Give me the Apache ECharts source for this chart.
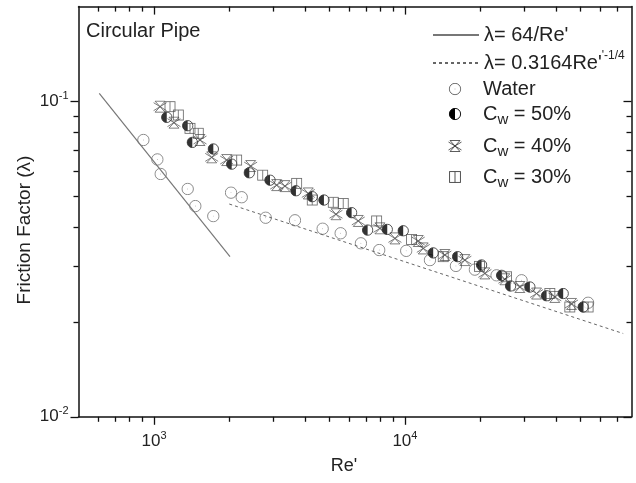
<!DOCTYPE html>
<html>
<head>
<meta charset="utf-8">
<script src="https://cdn.jsdelivr.net/npm/echarts@6/dist/echarts.min.js"></script>
<style>html,body{margin:0;padding:0;background:#fff}#c{width:636px;height:483px}</style>
</head>
<body>
<div id="c"></div>
<script>
// ---- data ----
const xRange = [500, 80000];
const yRange = [0.01, 0.2];
const xMajorTicks = [1000, 10000];
const xMinorTicks = [600, 700, 800, 900, 2000, 3000, 4000, 5000, 6000, 7000, 8000, 9000, 20000, 30000, 40000, 50000, 60000, 70000];
const yMajorTicks = [0.01, 0.1];
const yMinorTicks = [0.02, 0.03, 0.04, 0.05, 0.06, 0.07, 0.08, 0.09];

const laminarRe = [605, 2008];
const laminarLam = [0.1062, 0.0322];
const blasiusRe = [1995, 74130];
const blasiusLam = [0.0473, 0.01837];

const waterRe = [907, 1031, 1063, 1362, 1461, 1723, 2027, 2236, 2786, 3646, 4700, 5544, 6677, 7900, 10120, 12580, 15970, 19000, 23190, 29170, 53720];
const waterLam = [0.0755, 0.0655, 0.0589, 0.0528, 0.0466, 0.0433, 0.0514, 0.0497, 0.0428, 0.0420, 0.0395, 0.0382, 0.0355, 0.0338, 0.0336, 0.0314, 0.0301, 0.0293, 0.0281, 0.0271, 0.0230];

const cw50Re = [1124, 1362, 1421, 1723, 2040, 2397, 2899, 3679, 4272, 4757, 6132, 7101, 8502, 9845, 12960, 16220, 20210, 24290, 26370, 31480, 36680, 42730, 51340];
const cw50Lam = [0.0891, 0.0838, 0.0742, 0.0707, 0.0633, 0.0594, 0.0563, 0.0521, 0.0499, 0.0487, 0.0444, 0.0391, 0.0393, 0.0389, 0.0331, 0.0322, 0.0303, 0.0281, 0.0260, 0.0258, 0.0242, 0.0246, 0.0223];

const cw40Re = [1057, 1201, 1525, 1698, 1948, 2428, 3082, 3326, 4119, 5311, 6516, 7950, 9124, 11300, 11830, 14430, 17340, 20830, 25030, 28720, 33470, 39590, 46140];
const cw40Lam = [0.0963, 0.0857, 0.0755, 0.0665, 0.0652, 0.0624, 0.0543, 0.0539, 0.0511, 0.0439, 0.0418, 0.0396, 0.0368, 0.0361, 0.0342, 0.0326, 0.0314, 0.0285, 0.0273, 0.0258, 0.0246, 0.0240, 0.0228];

const cw30Re = [1158, 1250, 1391, 1501, 2135, 2711, 3703, 4272, 5181, 5678, 7715, 10630, 14210, 19840, 25420, 37820, 45430, 53720];
const cw30Lam = [0.0963, 0.0906, 0.0822, 0.0793, 0.0652, 0.0584, 0.0550, 0.0487, 0.0479, 0.0475, 0.0418, 0.0365, 0.0322, 0.0300, 0.0278, 0.0246, 0.0223, 0.0223];

const seriesNames = ["λ= 64/Re'", "λ= 0.3164Re'-1/4", "Water", "Cw = 50%", "Cw = 40%", "Cw = 30%"];
const legendLabels = ["λ= 64/Re'", "λ= 0.3164Re'{sup|'-1/4}", "Water", "C{sub|w} = 50%", "C{sub|w} = 40%", "C{sub|w} = 30%"];

// ---- helpers ----
const L = v => Math.log10(v);
const pts = (xs, ys) => xs.map((x, i) => [L(x), L(ys[i])]);
const svg = s => 'image://data:image/svg+xml;charset=utf-8,' + encodeURIComponent(s);
const FONT = '"Liberation Sans", Arial, sans-serif';

const symWater = svg("<svg xmlns='http://www.w3.org/2000/svg' width='52' height='52' viewBox='0 0 13 13'><circle cx='6.5' cy='6.5' r='5.7' fill='none' stroke='#555' stroke-width='0.85'/><circle cx='6.5' cy='6.5' r='0.45' fill='#777'/></svg>");
const sym50 = svg("<svg xmlns='http://www.w3.org/2000/svg' width='48' height='48' viewBox='0 0 12 12'><circle cx='6' cy='6' r='5.2' fill='#fff' stroke='#111' stroke-width='0.9'/><path d='M6,0.8 A5.2,5.2 0 0 0 6,11.2 Z' fill='#000'/></svg>");
const sym40 = svg("<svg xmlns='http://www.w3.org/2000/svg' width='56' height='52' viewBox='0 0 14 13'><path d='M2,1 H12 L2,12 H12 Z M0.5,2.5 L13.5,10.5 M13.5,2.5 L0.5,10.5' fill='none' stroke='#333' stroke-width='0.8'/></svg>");
const sym30 = svg("<svg xmlns='http://www.w3.org/2000/svg' width='48' height='48' viewBox='0 0 12 12'><rect x='1' y='1' width='10' height='10' fill='none' stroke='#444' stroke-width='0.85'/><line x1='6' y1='1' x2='6' y2='11' stroke='#444' stroke-width='0.85'/></svg>");

const axisColor = '#111';
const labelRich = { sup: { fontSize: 11, fontFamily: FONT, color: '#222', verticalAlign: 'top', lineHeight: 10 } };
const powFmt = v => '10{sup|' + Math.round(v) + '}';

function xAxisDef(pos, values, len, inside, showLine, showLabel) {
  return {
    type: 'value', position: pos, min: L(xRange[0]), max: L(xRange[1]),
    axisLine: { show: showLine, onZero: false, lineStyle: { color: axisColor, width: 1.5 } },
    axisTick: { show: true, customValues: values.map(L), length: len, inside: inside, lineStyle: { color: axisColor, width: 1.3 } },
    axisLabel: showLabel ? { customValues: values.map(L), formatter: powFmt, fontSize: 17, fontFamily: FONT, color: '#222', margin: 14, lineHeight: 22, rich: labelRich } : { show: false },
    splitLine: { show: false }
  };
}
function yAxisDef(pos, values, len, inside, showLine, showLabel) {
  return {
    type: 'value', position: pos, min: L(yRange[0]), max: L(yRange[1]),
    axisLine: { show: showLine, onZero: false, lineStyle: { color: axisColor, width: 1.5 } },
    axisTick: { show: true, customValues: values.map(L), length: len, inside: inside, lineStyle: { color: axisColor, width: 1.3 } },
    axisLabel: showLabel ? { customValues: values.map(L), formatter: powFmt, fontSize: 17, fontFamily: FONT, color: '#222', margin: 10, lineHeight: 22, rich: labelRich } : { show: false },
    splitLine: { show: false }
  };
}

const legendTops = [35, 63, 89, 114, 146, 177];
const legendRich = {
  sub: { fontSize: 15, fontFamily: FONT, color: '#222', verticalAlign: 'bottom', lineHeight: 18 },
  sup: { fontSize: 12, fontFamily: FONT, color: '#222', verticalAlign: 'top', lineHeight: 12 }
};
const legends = seriesNames.map((n, i) => ({
  data: [n], left: 432, top: legendTops[i] - 13, padding: 0,
  itemWidth: 46, itemHeight: i < 2 ? 10 : 13, itemGap: 0, selectedMode: false,
  itemStyle: i < 2 ? { opacity: 0 } : undefined,
  formatter: () => legendLabels[i],
  textStyle: { fontSize: 20, fontFamily: FONT, color: '#222', lineHeight: 26, rich: legendRich }
}));

const option = {
  backgroundColor: '#fff',
  animation: false,
  grid: { left: 78.5, top: 6.6, width: 553, height: 410.2, containLabel: false },
  xAxis: [
    xAxisDef('bottom', xMajorTicks, 8, false, true, true),
    xAxisDef('bottom', xMinorTicks, 5, false, false, false),
    xAxisDef('top', xMajorTicks, 8, true, true, false),
    xAxisDef('top', xMinorTicks, 5, true, false, false)
  ],
  yAxis: [
    yAxisDef('left', yMajorTicks, 8, false, true, true),
    yAxisDef('left', yMinorTicks, 5, false, false, false),
    yAxisDef('right', yMajorTicks, 8, true, true, false),
    yAxisDef('right', yMinorTicks, 5, true, false, false)
  ],
  legend: legends,
  graphic: [
    { type: 'text', left: 86, top: 21, style: { text: 'Circular Pipe', fontSize: 20, fontFamily: FONT, fill: '#222' } },
    { type: 'text', x: 344, y: 466, style: { text: "Re'", fontSize: 18, fontFamily: FONT, fill: '#222', align: 'center', verticalAlign: 'middle' } },
    { type: 'text', x: 25, y: 230, rotation: Math.PI / 2, style: { text: 'Friction Factor (λ)', fontSize: 19, fontFamily: FONT, fill: '#222', align: 'center', verticalAlign: 'middle' } }
  ],
  series: [
    { name: seriesNames[0], type: 'line', data: pts(laminarRe, laminarLam), symbol: 'none', lineStyle: { color: '#777', width: 1.2 }, itemStyle: { color: '#777' } },
    { name: seriesNames[1], type: 'line', data: pts(blasiusRe, blasiusLam), symbol: 'none', lineStyle: { color: '#666', width: 1, type: [3, 3] }, itemStyle: { color: '#666' } },
    { name: seriesNames[2], type: 'scatter', data: pts(waterRe, waterLam), symbol: symWater, symbolSize: 13 },
    { name: seriesNames[3], type: 'scatter', data: pts(cw50Re, cw50Lam), symbol: sym50, symbolSize: 12 },
    { name: seriesNames[4], type: 'scatter', data: pts(cw40Re, cw40Lam), symbol: sym40, symbolSize: [14, 13] },
    { name: seriesNames[5], type: 'scatter', data: pts(cw30Re, cw30Lam), symbol: sym30, symbolSize: 12 }
  ]
};

const chart = echarts.init(document.getElementById('c'), null, { renderer: 'canvas' });
chart.setOption(option);
</script>
</body>
</html>
